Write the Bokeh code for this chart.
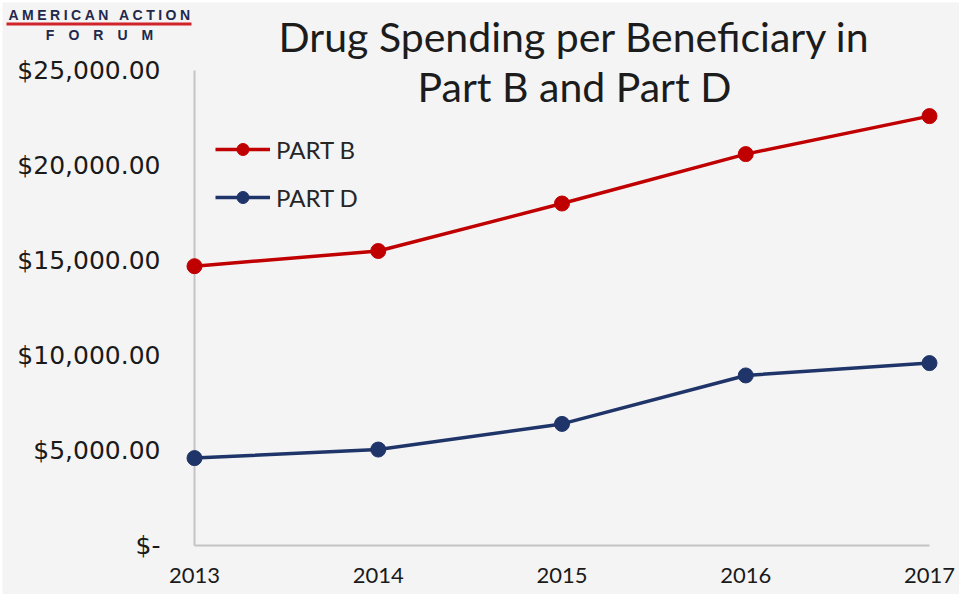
from bokeh.plotting import figure
from bokeh.models import Range1d, FixedTicker, Legend, LegendItem, Label, BoxAnnotation
from bokeh.embed import file_html
from bokeh.resources import INLINE

# ---- data ----
years = [2013, 2014, 2015, 2016, 2017]
part_b = [14700, 15500, 18000, 20600, 22600]
part_d = [4600, 5050, 6400, 8950, 9600]
y_ticks = [0, 5000, 10000, 15000, 20000, 25000]
y_tick_labels = ["$-", "$5,000.00", "$10,000.00", "$15,000.00", "$20,000.00", "$25,000.00"]
series_names = ["PART B", "PART D"]
title_lines = ["Drug Spending per Beneficiary in", "Part B and Part D"]
logo_lines = ["AMERICAN ACTION", "FORUM"]

RED = "#c00000"
NAVY = "#1f3468"
BG = "#f4f4f4"
AXIS = "#c4c4c4"
LOGO = "#22284c"

W, H = 959, 594
px_year = 183.75          # pixels per year
px_val = 95.0 / 5000.0    # pixels per dollar
# frame covers window x 10..967, y 10..602 ; 2013 at x=202, $0 at y=553
p = figure(width=W, height=H, output_backend="svg", toolbar_location=None,
           x_range=Range1d(years[0] - 192 / px_year, years[-1] + 30 / px_year),
           y_range=Range1d(-49 / px_val, 543 / px_val),
           min_border_left=2, min_border_right=0, min_border_top=2, min_border_bottom=0)
p.background_fill_color = BG
p.border_fill_color = "white"
p.outline_line_color = None
p.grid.visible = False

# axes drawn inside the frame at fixed locations
p.xaxis.fixed_location = 0
p.yaxis.fixed_location = years[0]
p.xaxis.ticker = FixedTicker(ticks=years)
p.yaxis.ticker = FixedTicker(ticks=y_ticks)
p.yaxis.major_label_overrides = {t: l for t, l in zip(y_ticks, y_tick_labels)}
for ax in (p.xaxis, p.yaxis):
    ax.axis_line_color = None
    ax.major_tick_line_color = None
    ax.minor_tick_line_color = None
    ax.major_tick_out = 0
    ax.major_tick_in = 0
    ax.major_label_text_color = "#1a1a1a"
p.xaxis.major_label_text_font = "Lato"
p.xaxis.major_label_text_font_size = "22px"
p.xaxis.major_label_standoff = 22
p.yaxis.major_label_text_font = "DejaVu Sans"
p.yaxis.major_label_text_font_size = "25px"
p.yaxis.major_label_standoff = 34

# axis lines
p.segment(x0=[years[0], years[0]], y0=[0, 0], x1=[years[0], years[-1]], y1=[y_ticks[-1], 0],
          line_color=AXIS, line_width=2)

# series
rb_l = p.line(years, part_b, line_color=RED, line_width=3.5)
rb_s = p.scatter(years, part_b, size=15, fill_color=RED, line_color=RED)
rd_l = p.line(years, part_d, line_color=NAVY, line_width=3.5)
rd_s = p.scatter(years, part_d, size=15, fill_color=NAVY, line_color=NAVY)

legend = Legend(items=[LegendItem(label=series_names[0], renderers=[rb_l, rb_s]),
                       LegendItem(label=series_names[1], renderers=[rd_l, rd_s])],
                location=(213, 382), padding=0, margin=0, spacing=18,
                glyph_width=55, glyph_height=30, label_height=30, label_standoff=6,
                label_text_font="Lato", label_text_font_size="24px",
                label_text_color="#262626",
                background_fill_alpha=0, border_line_color=None)
p.add_layout(legend)

# title (two lines), screen units relative to the frame (left=10, bottom=602 in window)
for txt, yy in zip(title_lines, (558, 508)):
    p.add_layout(Label(x=572, y=yy, x_units="screen", y_units="screen", text=txt,
                       text_align="center", text_baseline="middle", text_font="Lato",
                       text_font_size="41px", text_color="#1c1c1c"))

# logo
sp = "\u2005"
p.add_layout(Label(x=6, y=580, x_units="screen", y_units="screen",
                   text=(sp * 3).join(sp.join(w) for w in logo_lines[0].split(" ")),
                   text_align="left", text_baseline="middle", text_font="Liberation Sans",
                   text_font_style="bold", text_font_size="14px", text_color=LOGO))
p.add_layout(Label(x=97, y=560, x_units="screen", y_units="screen",
                   text="\u2003".join(logo_lines[1]),
                   text_align="center", text_baseline="middle", text_font="Liberation Sans",
                   text_font_style="bold", text_font_size="14px", text_color=LOGO))
p.add_layout(BoxAnnotation(left=4, right=189, bottom=569, top=572,
                           left_units="screen", right_units="screen",
                           bottom_units="screen", top_units="screen",
                           fill_color="#d0232a", fill_alpha=1, line_color=None))

open("out.html", "w").write(file_html(p, INLINE))
